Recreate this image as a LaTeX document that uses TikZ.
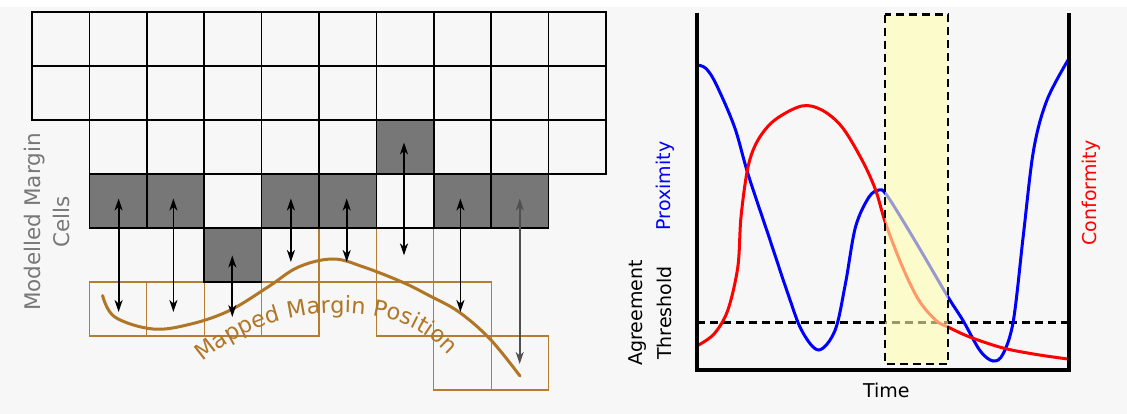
\documentclass[tikz,border=0pt]{standalone}
\usepackage{fontspec}
\setmainfont{DejaVu Sans}
\usetikzlibrary{arrows.meta,decorations.text}
\definecolor{bgc}{RGB}{247,247,247}
\definecolor{cellgray}{RGB}{119,119,119}
\definecolor{tanc}{RGB}{180,125,50}
\definecolor{curvec}{RGB}{176,118,38}
\definecolor{labgray}{RGB}{120,120,120}
\definecolor{hilite}{RGB}{255,255,175}
\definecolor{arrgray}{RGB}{80,80,80}
\newcommand{\fA}{\fontsize{21.5}{29}\selectfont}
\newcommand{\fB}{\fontsize{19}{29}\selectfont}
\newcommand{\fC}{\fontsize{22.5}{29}\selectfont}
\begin{document}
\begin{tikzpicture}[x=1pt,y=-1pt,
  wcell/.style={draw=black,line width=1.5pt,minimum width=57.4pt,minimum height=54pt,inner sep=0pt,outer sep=0pt},
  gcell/.style={wcell,fill=cellgray},
  tcell/.style={draw=tanc,line width=1.3pt,minimum width=57.4pt,minimum height=54pt,inner sep=0pt,outer sep=0pt},
  dbl/.style={line width=1.8pt,{Stealth[length=12pt,width=8pt,inset=3.5pt]}-{Stealth[length=12pt,width=8pt,inset=3.5pt]}},
  axisline/.style={line width=3.2pt},
  lab/.style={font=\fB,inner sep=0pt}]
\useasboundingbox (0,0) rectangle (1127,414);
\fill[bgc] (0,7) rectangle (1127,414);
% tan mapped cells
\foreach \r/\c in {4/4,4/5,4/6,5/1,5/2,5/3,5/4,5/6,5/7,6/7,6/8}
  \node[tcell] (t-\r-\c) at ({32+57.4*(\c+0.5)},{12+54*(\r+0.5)}) {};
% white cells
\foreach \r/\c in {0/0,0/1,0/2,0/3,0/4,0/5,0/6,0/7,0/8,0/9,
                   1/0,1/1,1/2,1/3,1/4,1/5,1/6,1/7,1/8,1/9,
                   2/1,2/2,2/3,2/4,2/5,2/7,2/8,2/9,
                   3/3,3/6}
  \node[wcell] (g-\r-\c) at ({32+57.4*(\c+0.5)},{12+54*(\r+0.5)}) {};
% gray cells
\foreach \r/\c in {2/6,3/1,3/2,3/4,3/5,3/7,3/8,4/3}
  \node[gcell] (g-\r-\c) at ({32+57.4*(\c+0.5)},{12+54*(\r+0.5)}) {};
% mapped margin curve
\draw[curvec,line width=3pt,line cap=round] plot[smooth,tension=0.6] coordinates
 {(102.6,295.5) (114.8,317) (153,329) (191,324) (229.6,310.5) (268,287) (298.5,267) (333,259) (363.6,267) (402,282) (430,296) (459,312) (490,339) (520,376)};
% arrows
\coordinate (a1t) at (118.6,198.5); \coordinate (a1b) at (118.6,312);
\coordinate (a2t) at (173.4,198.5); \coordinate (a2b) at (173.4,312);
\coordinate (a3t) at (232.3,255.5); \coordinate (a3b) at (232.3,317);
\coordinate (a4t) at (290.9,198.5); \coordinate (a4b) at (290.9,262);
\coordinate (a5t) at (346.7,198.5); \coordinate (a5b) at (346.7,262);
\coordinate (a6t) at (404,142.5);   \coordinate (a6b) at (404,255.4);
\coordinate (a7t) at (460.4,198.5); \coordinate (a7b) at (460.4,312);
\coordinate (a8t) at (519.7,198.5); \coordinate (a8b) at (519.7,364);
\foreach \i in {1,...,7} \draw[dbl] (a\i t) -- (a\i b);
\draw[dbl,arrgray] (a8t) -- (a8b);
% text along path
\path[decorate,decoration={text along path,text align=center,
  text={|\fC\color{curvec}|Mapped Margin Position}}]
  (196,368) .. controls (242,326) and (292,312) .. (346,313) .. controls (394,314) and (428,330) .. (455,362);
\node[lab,font=\fA,text=labgray,rotate=90,align=center] (mmc) at (47,222) {Modelled Margin\\Cells};
% right panel
\coordinate (ytop) at (697,12.7);
\coordinate (orig) at (697,370);
\coordinate (xend) at (1069,370);
\coordinate (ytop2) at (1069,12.7);
% threshold
\draw[line width=3pt,dash pattern=on 8pt off 5pt] (697,322) coordinate (th1) -- (1069,322) coordinate (th2);
% curves
\draw[blue,line width=3pt] plot[smooth,tension=0.55] coordinates
 {(697.5,65) (706,68.5) (716,84) (734.5,127) (748,174) (768,234) (788,294) (801.7,330.5) (818.5,350) (835,330.5) (845.4,283.8) (855.5,227) (869,197) (879,190) (885.7,193.7) (902.5,220) (922.7,253.8) (948,297) (963,320.5) (980,350.6) (993,361) (1003,354) (1013.4,320.5) (1023.5,233.7) (1033.6,150) (1047,100) (1069,58.4)};
\draw[red,line width=3pt] plot[smooth,tension=0.55] coordinates
 {(697.5,345.6) (714,334) (727.7,310.5) (737.8,267) (741,217) (748,167) (758,140) (774.8,120) (801.7,106) (821.8,110) (842,127) (862,160) (875.6,190) (885.7,223.7) (902.5,267) (919,300.5) (936,320.5) (948,327) (969.7,337) (1003,348) (1037,354.6) (1068,359)};
% highlight box
\fill[hilite,opacity=0.6] (885,14.7) rectangle (948,364);
\draw[line width=2.6pt,dash pattern=on 8pt off 5pt] (885,14.7) rectangle (948,364);
% axes
\draw[axisline] (ytop) -- (orig) -- (xend) -- (ytop2);
% labels
\node[lab,text=blue,rotate=90] (prox) at (665.5,186) {Proximity};
\node[lab,text=red,rotate=90] (conf) at (1091.4,193) {Conformity};
\node[lab,rotate=90,align=center] (agr) at (650,313) {Agreement\\Threshold};
\node[lab] (time) at (886.4,390) {Time};
\end{tikzpicture}
\end{document}
